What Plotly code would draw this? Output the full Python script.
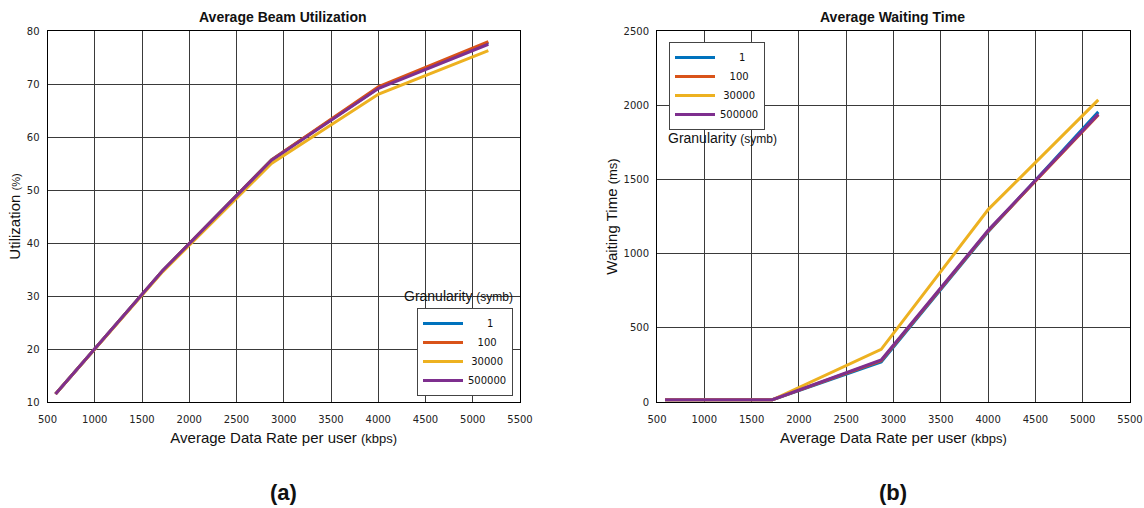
import plotly.graph_objects as go

# ---- data ----
rate = [585, 1720, 2870, 4005, 5165]
series_names = ["1", "100", "30000", "500000"]
legend_labels = ["&nbsp;&nbsp;&nbsp;&nbsp;&nbsp;&nbsp;1", "&nbsp;&nbsp;&nbsp;100", "&nbsp;30000", "500000"]
colors = ["#0072BD", "#D95319", "#EDB120", "#7E2F8E"]

util = {
    "1":      [11.5, 34.8, 55.7, 69.3, 77.8],
    "100":    [11.5, 34.8, 55.7, 69.5, 78.0],
    "30000":  [11.5, 34.6, 55.0, 68.1, 76.3],
    "500000": [11.5, 34.8, 55.6, 69.2, 77.5],
}
wait = {
    "1":      [15, 15, 270, 1150, 1955],
    "100":    [15, 15, 278, 1155, 1935],
    "30000":  [15, 15, 355, 1300, 2036],
    "500000": [15, 15, 283, 1160, 1940],
}

x_ticks = [500, 1000, 1500, 2000, 2500, 3000, 3500, 4000, 4500, 5000, 5500]
util_ticks = [10, 20, 30, 40, 50, 60, 70, 80]
wait_ticks = [0, 500, 1000, 1500, 2000, 2500]

W, H = 1144, 508
fig = go.Figure()

for name, lab, c in zip(series_names, legend_labels, colors):
    fig.add_trace(go.Scatter(x=rate, y=util[name], mode="lines", name=lab,
                             line=dict(color=c, width=3), xaxis="x", yaxis="y",
                             legend="legend"))
for name, lab, c in zip(series_names, legend_labels, colors):
    fig.add_trace(go.Scatter(x=rate, y=wait[name], mode="lines", name=lab,
                             line=dict(color=c, width=3), xaxis="x2", yaxis="y2",
                             legend="legend2"))

def px(x):
    return x / W

def py(y):
    return 1 - y / H

tickfont = dict(family="DejaVu Sans", size=10, color="#222")
axcommon = dict(showline=True, linecolor="black", linewidth=1, mirror=True,
                showgrid=True, gridcolor="#3a3a3a", gridwidth=1, zeroline=False,
                ticks="", tickfont=tickfont, automargin=False)

xtitle = "Average Data Rate per user <span style='font-size:13px'>(kbps)</span>"

fig.update_layout(
    width=W, height=H,
    margin=dict(l=0, r=0, t=0, b=0, autoexpand=False),
    paper_bgcolor="white", plot_bgcolor="white",
    font=dict(family="Liberation Sans, Arial", color="#111"),
    xaxis=dict(domain=[px(47.5), px(520)], range=[500, 5500], tickvals=x_ticks,
               anchor="y", ticklabelstandoff=8,
               title=dict(text=xtitle, font=dict(size=15), standoff=8), **axcommon),
    yaxis=dict(domain=[py(402), py(31)], range=[10, 80], tickvals=util_ticks,
               anchor="x", ticklabelstandoff=5,
               title=dict(text="Utilization <span style='font-size:11px'>(%)</span>",
                          font=dict(size=15), standoff=2), **axcommon),
    xaxis2=dict(domain=[px(657), px(1130)], range=[500, 5500], tickvals=x_ticks,
                anchor="y2", ticklabelstandoff=8,
                title=dict(text=xtitle, font=dict(size=15), standoff=8), **axcommon),
    yaxis2=dict(domain=[py(402), py(31)], range=[0, 2500], tickvals=wait_ticks,
                anchor="x2", ticklabelstandoff=5,
                title=dict(text="Waiting Time <span style='font-size:13px'>(ms)</span>",
                           font=dict(size=15), standoff=2), **axcommon),
    legend=dict(x=px(417), y=py(308), xanchor="left", yanchor="top",
                bgcolor="white", bordercolor="#444", borderwidth=1,
                font=dict(family="DejaVu Sans", size=10, color="#111"),
                tracegroupgap=0, itemwidth=40),
    legend2=dict(x=px(669), y=py(42), xanchor="left", yanchor="top",
                 bgcolor="white", bordercolor="#444", borderwidth=1,
                 font=dict(family="DejaVu Sans", size=10, color="#111"),
                 tracegroupgap=0, itemwidth=40),
    showlegend=True,
)

annotations = [
    dict(text="<b>Average Beam Utilization</b>", x=px(283), y=py(17), xref="paper", yref="paper",
         showarrow=False, font=dict(size=14, color="#111"), xanchor="center", yanchor="middle"),
    dict(text="<b>Average Waiting Time</b>", x=px(892), y=py(17), xref="paper", yref="paper",
         showarrow=False, font=dict(size=14, color="#111"), xanchor="center", yanchor="middle"),
    dict(text="Granularity <span style='font-size:12px'>(symb)</span>", x=px(402), y=py(296), xref="paper", yref="paper",
         showarrow=False, font=dict(size=14, color="#111"), xanchor="left", yanchor="middle"),
    dict(text="Granularity <span style='font-size:12px'>(symb)</span>", x=px(666), y=py(138), xref="paper", yref="paper",
         showarrow=False, font=dict(size=14, color="#111"), xanchor="left", yanchor="middle"),
    dict(text="<b>(a)</b>", x=px(283), y=py(492), xref="paper", yref="paper",
         showarrow=False, font=dict(size=22, color="#111"), xanchor="center", yanchor="middle"),
    dict(text="<b>(b)</b>", x=px(893), y=py(492), xref="paper", yref="paper",
         showarrow=False, font=dict(size=22, color="#111"), xanchor="center", yanchor="middle"),
]
fig.update_layout(annotations=annotations)

fig.write_html("out.html", config={"displayModeBar": False},
               post_script="document.body.style.margin='0';document.body.style.overflow='hidden';")
